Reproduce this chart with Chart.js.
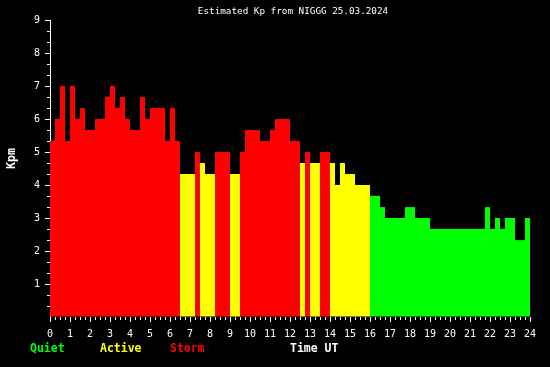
<!DOCTYPE html>
<html><head><meta charset="utf-8">
<script src="https://cdn.jsdelivr.net/npm/chart.js@4/dist/chart.umd.min.js"></script>
<style>html,body{margin:0;padding:0;background:#000;}#wrap{width:550px;height:367px;}</style>
</head><body>
<div id="wrap"><canvas id="c" width="550" height="367"></canvas></div>
<script>
// ---- texts ----
const chartTitle = 'Estimated Kp from NIGGG 25.03.2024';
const xAxisTitle = 'Time UT';
const yAxisTitle = 'Kpm';
const legendLabels = ['Quiet', 'Active', 'Storm'];
const legendColors = ['#00ff00', '#ffff00', '#ff0000'];

// ---- axis ticks ----
const hourTicks = [0,1,2,3,4,5,6,7,8,9,10,11,12,13,14,15,16,17,18,19,20,21,22,23,24];
const kpTicks = [0,1,2,3,4,5,6,7,8,9];

// ---- data: Kp per 15-minute slot ----
const slotHours = 0.25;
const kp00to06 = [5.33,6,7,5.33, 7,6,6.33,5.67, 5.67,6,6,6.67, 7,6.33,6.67,6, 5.67,5.67,6.67,6, 6.33,6.33,6.33,5.33];
const kp06to12 = [6.33,5.33,4.33,4.33, 4.33,5,4.67,4.33, 4.33,5,5,5, 4.33,4.33,5,5.67, 5.67,5.67,5.33,5.33, 5.67,6,6,6];
const kp12to18 = [5.33,5.33,4.67,5, 4.67,4.67,5,5, 4.67,4,4.67,4.33, 4.33,4,4,4, 3.67,3.67,3.33,3, 3,3,3,3.33];
const kp18to24 = [3.33,3,3,3, 2.67,2.67,2.67,2.67, 2.67,2.67,2.67,2.67, 2.67,2.67,2.67,3.33, 2.67,3,2.67,3, 3,2.33,2.33,3];

const activeLevel = 4;
const stormLevel = 5;

const kpValues = [].concat(kp00to06, kp06to12, kp12to18, kp18to24);
const points = kpValues.map((v, i) => ({ x: (i + 0.5) * slotHours, y: v }));
const barColors = kpValues.map(v => v >= stormLevel ? legendColors[2] : (v >= activeLevel ? legendColors[1] : legendColors[0]));

const minorTicks = {
  id: 'minorTicks',
  afterDraw(chart) {
    const { ctx, scales: { x, y } } = chart;
    ctx.save();
    ctx.strokeStyle = '#fff';
    ctx.lineWidth = 1;
    ctx.beginPath();
    for (let q = 0; q <= hourTicks[hourTicks.length - 1] / slotHours; q++) {
      if (q % 4 === 0) continue;
      const px = Math.round(x.getPixelForValue(q * slotHours)) + 0.5;
      ctx.moveTo(px, y.bottom); ctx.lineTo(px, y.bottom + 3);
    }
    for (let t = 1; t < 27; t++) {
      if (t % 3 === 0) continue;
      const py = Math.round(y.getPixelForValue(t / 3)) + 0.5;
      ctx.moveTo(x.left - 3, py); ctx.lineTo(x.left, py);
    }
    ctx.stroke();
    ctx.restore();
  }
};

const texts = {
  id: 'texts',
  afterDraw(chart) {
    const ctx = chart.ctx;
    ctx.save();
    ctx.textBaseline = 'middle';
    ctx.fillStyle = '#fff';
    ctx.textAlign = 'center';
    ctx.font = '9.3px "DejaVu Sans Mono"';
    ctx.fillText(chartTitle, 293, 12);
    ctx.textAlign = 'left';
    ctx.font = 'bold 11.5px "DejaVu Sans Mono"';
    const lx = [30, 100, 170];
    legendLabels.forEach((t, i) => { ctx.fillStyle = legendColors[i]; ctx.fillText(t, lx[i], 349); });
    ctx.fillStyle = '#fff';
    ctx.fillText(xAxisTitle, 290, 349);
    ctx.translate(12, 158.5);
    ctx.rotate(-Math.PI / 2);
    ctx.textAlign = 'center';
    ctx.fillText(yAxisTitle, 0, 0);
    ctx.restore();
  }
};

new Chart(document.getElementById('c'), {
  type: 'bar',
  data: {
    datasets: [{
      data: points,
      backgroundColor: barColors,
      borderWidth: 0,
      inflateAmount: 0,
      barPercentage: 1,
      categoryPercentage: 1
    }]
  },
  options: {
    responsive: false,
    animation: false,
    layout: { padding: { top: 20, right: 20, bottom: 20, left: 0 } },
    plugins: { legend: { display: false }, tooltip: { enabled: false }, title: { display: false } },
    scales: {
      x: {
        type: 'linear',
        min: 0, max: 24,
        offset: false,
        afterBuildTicks: s => { s.ticks = hourTicks.map(v => ({ value: v })); },
        afterFit: s => { s.height = 30; },
        border: { display: false },
        grid: { display: true, drawOnChartArea: false, drawTicks: true, tickLength: 5, color: '#fff', tickColor: '#fff', offset: false },
        ticks: { color: '#fff', font: { family: 'DejaVu Sans Mono', size: 10 }, padding: 6, maxRotation: 0, autoSkip: false }
      },
      y: {
        min: 0, max: 9,
        afterBuildTicks: s => { s.ticks = kpTicks.map(v => ({ value: v })); },
        afterFit: s => { s.width = 50; },
        border: { display: true, color: '#fff', width: 1 },
        grid: { display: true, drawOnChartArea: false, drawTicks: true, tickLength: 5, tickColor: ctx => ctx.tick && ctx.tick.value === 0 ? 'rgba(0,0,0,0)' : '#fff' },
        ticks: { color: '#fff', font: { family: 'DejaVu Sans Mono', size: 10 }, padding: 5, callback: v => v === 0 ? '' : String(v) }
      }
    }
  },
  plugins: [minorTicks, texts]
});
</script>
</body></html>
